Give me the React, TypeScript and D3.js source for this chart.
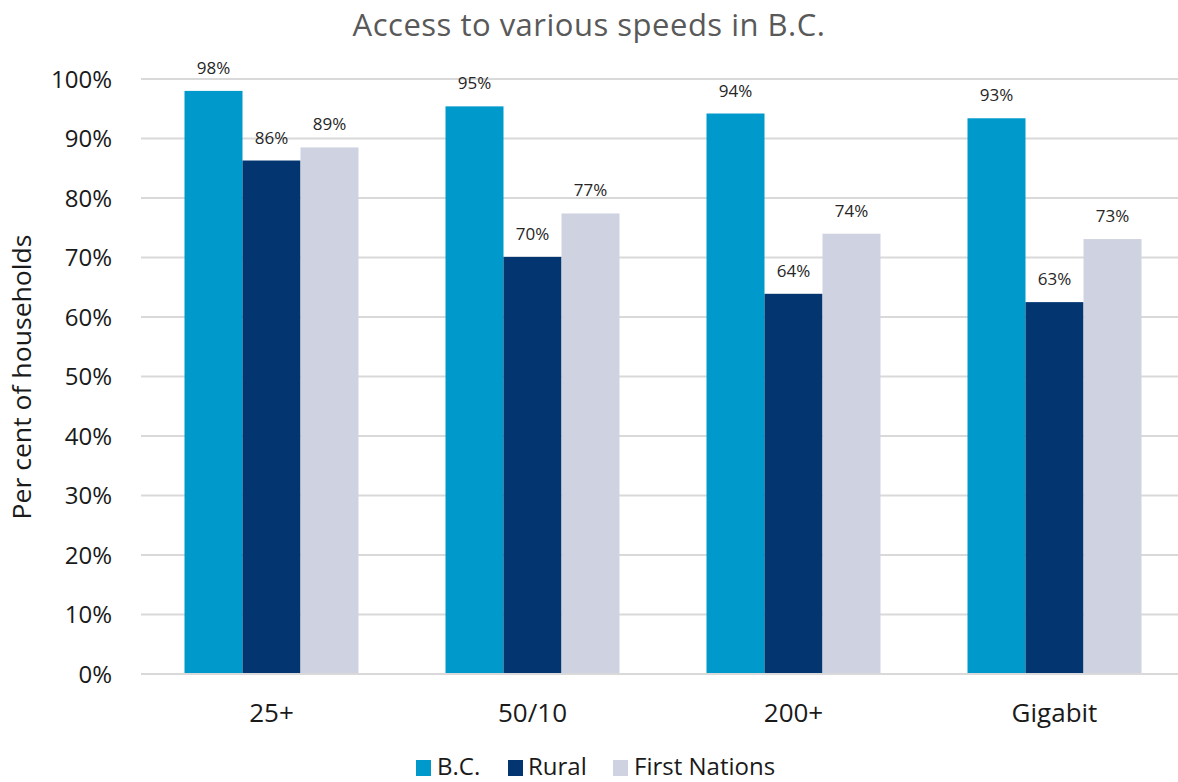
import React from "react";
import * as d3 from "d3";

const categories = ["25+", "50/10", "200+", "Gigabit"];
const seriesNames = ["B.C.", "Rural", "First Nations"];
const bcValues = [98.0, 95.4, 94.2, 93.4];
const ruralValues = [86.3, 70.1, 63.9, 62.5];
const firstNationsValues = [88.5, 77.4, 74.0, 73.1];
const yTicks = [0, 10, 20, 30, 40, 50, 60, 70, 80, 90, 100];
const colors = ["#0099CB", "#033671", "#CFD3E1"];

const W = 1178;
const H = 782;
const FONT = "'Open Sans', 'Noto Sans', sans-serif";

export default function App() {
  const series = [bcValues, ruralValues, firstNationsValues];
  const x = d3.scaleBand<string>().domain(categories).range([141, 1185]).paddingInner(1 / 3).paddingOuter(1 / 6);
  const xs = d3.scaleBand<string>().domain(seriesNames).range([0, x.bandwidth()]);
  const y = d3.scaleLinear().domain([0, 100]).range([674, 79]);

  const legendItems = [
    { name: seriesNames[0], sx: 416, tx: 437 },
    { name: seriesNames[1], sx: 508, tx: 528 },
    { name: seriesNames[2], sx: 613, tx: 634 },
  ];

  return (
    <svg width={W} height={H} style={{ position: "absolute", left: 0, top: 0, background: "#fff" }} fontFamily={FONT}>
      <text x={589} y={36} textAnchor="middle" fontSize={31} letterSpacing={0.5} fill="#595959">
        Access to various speeds in B.C.
      </text>

      {yTicks.map((t) => (
        <g key={t}>
          <line x1={141} x2={W} y1={y(t)} y2={y(t)} stroke="#D9D9D9" strokeWidth={2} />
          <text x={112} y={y(t)} dy="0.36em" textAnchor="end" fontSize={24} fill="#1a1a1a">
            {d3.format("d")(t)}%
          </text>
        </g>
      ))}

      <text
        transform={`translate(31, ${377}) rotate(-90)`}
        textAnchor="middle"
        fontSize={25}
        textLength={285}
        lengthAdjust="spacingAndGlyphs"
        fill="#1a1a1a"
      >
        Per cent of households
      </text>

      {categories.map((c, i) => (
        <g key={c} transform={`translate(${x(c)}, 0)`}>
          {series.map((vals, s) => {
            const bx = xs(seriesNames[s]) as number;
            const v = vals[i];
            return (
              <g key={s}>
                <rect x={bx} y={y(v)} width={xs.bandwidth()} height={y(0) - y(v)} fill={colors[s]} />
                <text
                  x={bx + xs.bandwidth() / 2}
                  y={y(v) - 17}
                  textAnchor="middle"
                  fontSize={17}
                  fill="#262626"
                >
                  {Math.round(v)}%
                </text>
              </g>
            );
          })}
          <text x={x.bandwidth() / 2} y={722} textAnchor="middle" fontSize={26} fill="#1a1a1a">
            {c}
          </text>
        </g>
      ))}

      <line x1={141} x2={W} y1={y(0)} y2={y(0)} stroke="#D9D9D9" strokeWidth={2} />

      {legendItems.map((l, i) => (
        <g key={l.name}>
          <rect x={l.sx} y={760} width={15} height={16} fill={colors[i]} />
          <text x={l.tx} y={775} fontSize={24} fill="#1a1a1a">
            {l.name}
          </text>
        </g>
      ))}
    </svg>
  );
}
